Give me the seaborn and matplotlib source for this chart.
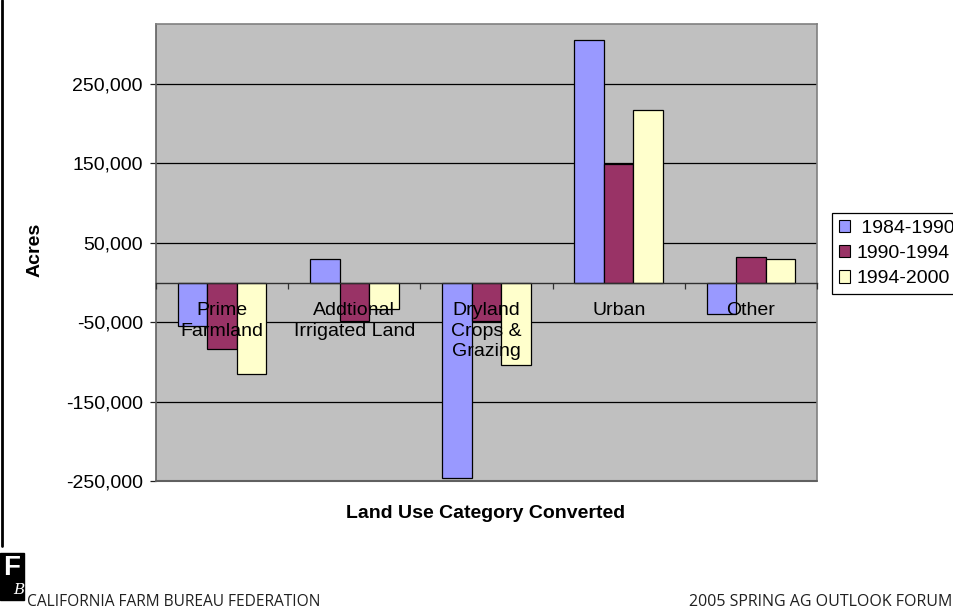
import matplotlib
matplotlib.use("Agg")
import matplotlib.pyplot as plt
import seaborn as sns
import pandas as pd
from matplotlib.ticker import FuncFormatter
from matplotlib.patches import Rectangle, Patch
from matplotlib.lines import Line2D

# data (acres)
categories = ["Prime\nFarmland", "Addtional\nIrrigated Land", "Dryland\nCrops &\nGrazing", "Urban", "Other"]
periods = ["1984-1990", "1990-1994", "1994-2000"]
acres_84_90 = [-54500, 29800, -245800, 305300, -40000]
acres_90_94 = [-83400, -48200, -48700, 149500, 32700]
acres_94_00 = [-115200, -33200, -103500, 217200, 30200]
yticks = [-250000, -150000, -50000, 50000, 150000, 250000]
colors = ["#9999FF", "#993366", "#FFFFCC"]

rows = []
for period, vals in zip(periods, [acres_84_90, acres_90_94, acres_94_00]):
    for cat, v in zip(categories, vals):
        rows.append({"category": cat, "period": period, "acres": v})
df = pd.DataFrame(rows)

sns.set_style("white")
plt.rcParams["font.family"] = ["Liberation Sans", "DejaVu Sans"]
plt.rcParams["text.color"] = "black"
plt.rcParams["xtick.color"] = "black"
plt.rcParams["ytick.color"] = "black"

fig = plt.figure(figsize=(9.54, 6.13), dpi=100)
ax = fig.add_axes([156 / 954, 1 - 481 / 613, (817 - 156) / 954, (481 - 24) / 613])
ax.set_facecolor("#C0C0C0")

sns.barplot(data=df, x="category", y="acres", hue="period", order=categories,
            hue_order=periods, palette=colors, saturation=1, width=0.67,
            edgecolor="black", linewidth=0.9, errorbar=None, legend=False, ax=ax)

ax.set_ylim(-250000, 325600)
ax.set_xlim(-0.5, 4.5)
ax.set_yticks(yticks)
ax.yaxis.set_major_formatter(FuncFormatter(lambda v, p: f"{int(v):,}"))
ax.yaxis.grid(True, color="black", linewidth=0.9)
ax.set_axisbelow(True)
ax.xaxis.set_zorder(4)  # category labels are written over the bars
ax.tick_params(axis="y", direction="out", length=4.5, width=0.9, color="#202020",
               labelsize=14, pad=5, left=True, labelcolor="black")

# category axis sits on the zero line
ax.spines["bottom"].set_position(("data", 0))
ax.spines["bottom"].set_color("#303030")
ax.spines["bottom"].set_linewidth(1.0)
ax.set_xticks([-0.5, 0.5, 1.5, 2.5, 3.5, 4.5], minor=True)
ax.tick_params(axis="x", which="minor", direction="out", length=4, width=0.9,
               color="#303030", bottom=True)
ax.tick_params(axis="x", which="major", length=0, labelsize=14, pad=14,
               labelcolor="black")
for lbl in ax.get_xticklabels():
    lbl.set_multialignment("center")
    lbl.set_linespacing(1.28)
ax.set_xlabel("")
ax.set_ylabel("")

for side in ["left", "top", "right"]:
    ax.spines[side].set_color("#808080")
    ax.spines[side].set_linewidth(1.2)
ax.spines["left"].set_color("#606060")
ax.axhline(-250000, color="#606060", linewidth=1.5, clip_on=False, zorder=3)

fig.text(35 / 954, 1 - 250 / 613, "Acres", rotation=90, ha="center", va="center",
         fontsize=14, fontweight="bold")
fig.text(486 / 954, 1 - 513 / 613, "Land Use Category Converted", ha="center",
         va="center", fontsize=14, fontweight="bold")

handles = [Patch(facecolor=c, edgecolor="black", linewidth=0.8) for c in colors]
leg = ax.legend(handles, [" 1984-1990", "1990-1994", "1994-2000"], loc="upper left",
                bbox_to_anchor=(832 / 954, 1 - 213 / 613), bbox_transform=fig.transFigure,
                fontsize=14, frameon=True, fancybox=False, framealpha=1,
                edgecolor="black", borderaxespad=0, borderpad=0.35,
                handlelength=0.6, handleheight=0.6, handletextpad=0.3,
                labelspacing=0.42)
leg.get_frame().set_linewidth(0.9)

# slide decoration
fig.add_artist(Line2D([1.5 / 954, 1.5 / 954], [1, 1 - 546 / 613], color="black",
                      linewidth=2.0, transform=fig.transFigure))
fig.add_artist(Rectangle((0, 1 - 600 / 613), 24 / 954, 47 / 613, color="black",
                         transform=fig.transFigure))
fig.text(3 / 954, 1 - 568 / 613, "F", color="white", fontsize=20, fontweight="bold",
         va="center", ha="left")
fig.text(13 / 954, 1 - 590 / 613, "B", color="white", fontsize=11, style="italic",
         va="center", ha="left", family="DejaVu Serif")
fig.text(27 / 954, 1 - 602 / 613, "CALIFORNIA FARM BUREAU FEDERATION", ha="left",
         va="center", fontsize=11.2, family="Open Sans", color="#202020")
fig.text(952 / 954, 1 - 602 / 613, "2005 SPRING AG OUTLOOK FORUM", ha="right",
         va="center", fontsize=11.5, family="Open Sans", color="#202020")

fig.savefig("out.png", dpi=100)
